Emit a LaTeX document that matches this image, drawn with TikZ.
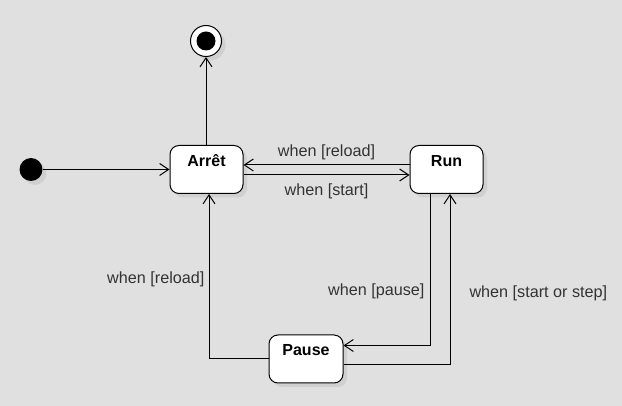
\documentclass[tikz,border=0pt]{standalone}
\usepackage{fontspec}
\setmainfont{Liberation Sans}
\usetikzlibrary{arrows.meta,shadows}
\definecolor{bg}{RGB}{224,224,224}
\definecolor{lblc}{RGB}{51,51,51}
\begin{document}
\begin{tikzpicture}[x=1pt,y=-1pt, line width=1pt,
  shd/.style={drop shadow={shadow xshift=4pt,shadow yshift=-4pt,fill=black,opacity=0.07}},
  state/.style={draw, fill=white, rounded corners=9pt, minimum width=73pt, minimum height=48pt, inner sep=0pt, shd},
  stlabel/.style={anchor=base, yshift=-21.5pt, font=\fontsize{16}{18}\selectfont\bfseries, text=black},
  lbl/.style={font=\fontsize{16.2}{18}\selectfont, text=lblc, inner sep=0pt},
  arr/.style={-{Straight Barb[length=9pt,width=12pt,line width=1pt]}}
]
\useasboundingbox (0,0) rectangle (622,406);
\fill[bg] (0,0) rectangle (622,406);

\node[state, label={[stlabel]north:Arrêt}] (arret) at (206.5,169.5) {};
\node[state, label={[stlabel]north:Run}] (run) at (446.5,169.5) {};
\node[state, label={[stlabel]north:Pause}, minimum width=74pt] (pause) at (306,359) {};

\node[circle, fill=black, minimum size=23pt, inner sep=0pt, shd] (init) at (31,169.5) {};
\node[circle, draw, fill=white, minimum size=31pt, inner sep=0pt, shd] (final) at (206,41) {};
\fill[black] (final) circle (9.5pt);

\draw[arr] (init) -- (arret);
\draw[arr] (arret.north -| final) -- (final);
\draw[arr] ([yshift=4.5pt]run.west) -- node[lbl, yshift=13pt] {when [reload]} ([yshift=4.5pt]arret.east);
\draw[arr] ([yshift=-5.5pt]arret.east) -- node[lbl, yshift=-16pt] {when [start]} ([yshift=-5.5pt]run.west);
\draw[arr] (pause.west) -| node[lbl, pos=0.74, anchor=east, xshift=-4pt] {when [reload]} ([xshift=2.5pt]arret.south);
\draw[arr] ([xshift=-16.5pt]run.south) |- node[lbl, pos=0.32, anchor=east, xshift=-5pt] {when [pause]} ([yshift=13.5pt]pause.east);
\draw[arr] ([yshift=-6pt]pause.east) -| node[lbl, pos=0.71, anchor=west, xshift=19pt] {when [start or step]} ([xshift=3.5pt]run.south);
\end{tikzpicture}
\end{document}
